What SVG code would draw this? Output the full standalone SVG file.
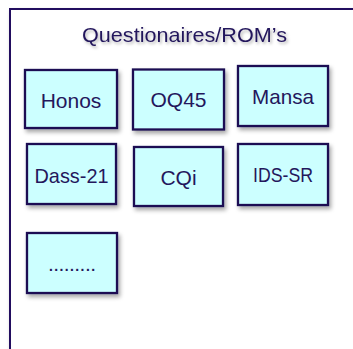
<svg xmlns="http://www.w3.org/2000/svg" width="353" height="349" viewBox="0 0 353 349">
<defs>
<filter id="sh" x="-20%" y="-20%" width="150%" height="150%">
<feDropShadow dx="2" dy="3" stdDeviation="2" flood-color="#000" flood-opacity="0.35"/>
</filter>
<filter id="tsh" x="-10%" y="-30%" width="120%" height="170%">
<feDropShadow dx="1.5" dy="2" stdDeviation="1.5" flood-color="#000" flood-opacity="0.3"/>
</filter>
</defs>
<style>
.frame{fill:#fff;stroke:#22105e;stroke-width:2}
.box{fill:#ccffff;stroke:#1f0d52;stroke-width:2.3;filter:url(#sh)}
.lbl{font-family:"Liberation Sans",Arial,sans-serif;font-size:21px;fill:#24175c;text-anchor:middle}
.title{font-family:"Liberation Sans",Arial,sans-serif;font-size:21px;fill:#24175c;text-anchor:middle;filter:url(#tsh)}
</style>
<rect width="353" height="349" fill="#fff"/>
<g id="frame">
<rect class="frame" x="10" y="9" width="400" height="400" filter="url(#sh)"/>
<text class="title" x="184.5" y="42" textLength="205" lengthAdjust="spacingAndGlyphs">Questionaires/ROM’s</text>
</g>
<g id="honos">
<rect class="box" x="25" y="70" width="92" height="58"/>
<text class="lbl" x="71" y="108">Honos</text>
</g>
<g id="oq45">
<rect class="box" x="133" y="69.5" width="91" height="60"/>
<text class="lbl" x="178.5" y="107">OQ45</text>
</g>
<g id="mansa">
<rect class="box" x="238" y="66" width="90" height="60"/>
<text class="lbl" x="283" y="104" textLength="62" lengthAdjust="spacingAndGlyphs">Mansa</text>
</g>
<g id="dass21">
<rect class="box" x="27" y="144" width="89" height="60"/>
<text class="lbl" x="71.5" y="183" textLength="74" lengthAdjust="spacingAndGlyphs">Dass-21</text>
</g>
<g id="cqi">
<rect class="box" x="134" y="147" width="89" height="59"/>
<text class="lbl" x="178.5" y="185">CQi</text>
</g>
<g id="idssr">
<rect class="box" x="238" y="144" width="90" height="61"/>
<text class="lbl" x="283" y="182" textLength="60" lengthAdjust="spacingAndGlyphs">IDS-SR</text>
</g>
<g id="more">
<rect class="box" x="27" y="233" width="90" height="60"/>
<text class="lbl" x="72" y="271" textLength="48" lengthAdjust="spacing">.........</text>
</g>
<g id="connectors"/>
</svg>
